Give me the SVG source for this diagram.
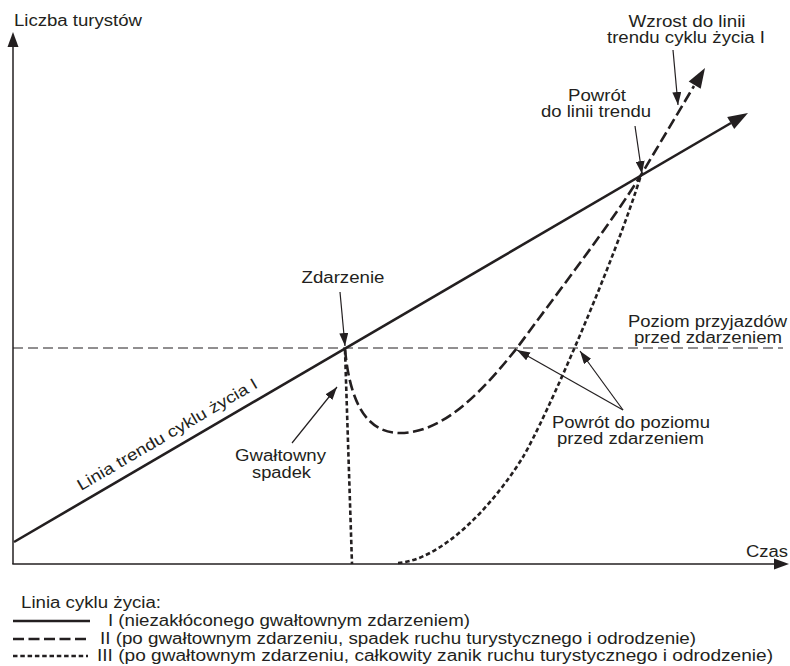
<svg xmlns="http://www.w3.org/2000/svg" width="790" height="666" viewBox="0 0 790 666">
  <style>
    text { font-family: "Liberation Sans", Arial, sans-serif; font-size: 16px; fill: #231f20; }
    .mid { text-anchor: middle; }
    .axis { stroke: #231f20; stroke-width: 1.5; fill: none; }
    .trend { stroke: #231f20; stroke-width: 2.6; fill: none; }
    .ref { stroke: #231f20; stroke-width: 1; fill: none; stroke-dasharray: 10 5; }
    .c2 { stroke: #231f20; stroke-width: 2.6; fill: none; stroke-dasharray: 11 4.5; }
    .c3 { stroke: #231f20; stroke-width: 2.6; fill: none; stroke-dasharray: 4.5 2.8; }
    .call { stroke: #231f20; stroke-width: 1.2; fill: none; marker-end: url(#tip); }
    .head { fill: #231f20; }
  </style>
  <defs>
    <marker id="tip" markerUnits="userSpaceOnUse" markerWidth="13" markerHeight="9" refX="13" refY="4.5" orient="auto">
      <path d="M0,0 L13,4.5 L0,9 z" fill="#231f20"/>
    </marker>
  </defs>
  <rect width="790" height="666" fill="#ffffff"/>

  <!-- axes -->
  <g id="axes">
    <line class="axis" x1="13" y1="564" x2="13" y2="44"/>
    <polygon class="head" points="13,32 18.5,47 7.5,47"/>
    <line class="axis" x1="12.3" y1="564" x2="776" y2="564"/>
    <polygon class="head" points="789,564 774,558.5 774,569.5"/>
    <text x="14" y="26" textLength="128" lengthAdjust="spacingAndGlyphs">Liczba turystów</text>
    <text x="746" y="557" textLength="42" lengthAdjust="spacingAndGlyphs">Czas</text>
  </g>

  <!-- pre-event arrivals level -->
  <g id="level">
    <line class="ref" x1="13" y1="348" x2="783" y2="348"/>
    <text x="628" y="327" textLength="159" lengthAdjust="spacingAndGlyphs">Poziom przyjazdów</text>
    <text x="634" y="343" textLength="148" lengthAdjust="spacingAndGlyphs">przed zdarzeniem</text>
  </g>

  <!-- life-cycle curves -->
  <g id="curve-1">
    <line class="trend" x1="14" y1="542" x2="731" y2="123"/>
    <polygon class="head" points="748,113 734.2,129.1 727.2,117.1"/>
    <text x="81" y="491" transform="rotate(-30.3 81 491)" textLength="206" lengthAdjust="spacingAndGlyphs">Linia trendu cyklu życia I</text>
  </g>
  <g id="curve-2">
    <path class="c2" d="M345,349 C350,405 368,433 400,433 C445,433 485,388 517,348 C555,296 610,225 641,175 L694,86"/>
    <polygon class="head" points="705,68 700.7,88.8 688.7,81.6"/>
  </g>
  <g id="curve-3">
    <path class="c3" d="M345,350 L352,564"/>
    <path class="c3" d="M398,563 C440,560 490,510 523,457 C545,420 615,260 641,175"/>
  </g>

  <!-- callout labels and pointers -->
  <g id="connectors">
    <line class="call" x1="340" y1="292" x2="345" y2="346"/>
    <line class="call" x1="292" y1="443" x2="337" y2="387"/>
    <line class="call" x1="635" y1="126" x2="642" y2="174"/>
    <line class="call" x1="673" y1="50" x2="678" y2="105"/>
    <line class="call" x1="623" y1="410" x2="517" y2="350"/>
    <line class="call" x1="623" y1="410" x2="580" y2="351"/>
  </g>
  <g id="label-event">
    <text class="mid" x="343" y="283" textLength="83" lengthAdjust="spacingAndGlyphs">Zdarzenie</text>
  </g>
  <g id="label-drop">
    <text x="235" y="461" textLength="91" lengthAdjust="spacingAndGlyphs">Gwałtowny</text>
    <text x="252" y="478" textLength="59" lengthAdjust="spacingAndGlyphs">spadek</text>
  </g>
  <g id="label-return-trend">
    <text class="mid" x="597" y="101" textLength="58" lengthAdjust="spacingAndGlyphs">Powrót</text>
    <text class="mid" x="596" y="117" textLength="110" lengthAdjust="spacingAndGlyphs">do linii trendu</text>
  </g>
  <g id="label-growth">
    <text class="mid" x="687" y="27" textLength="117" lengthAdjust="spacingAndGlyphs">Wzrost do linii</text>
    <text class="mid" x="686" y="43" textLength="158" lengthAdjust="spacingAndGlyphs">trendu cyklu życia I</text>
  </g>
  <g id="label-return-level">
    <text x="552" y="428" textLength="158" lengthAdjust="spacingAndGlyphs">Powrót do poziomu</text>
    <text x="557" y="444" textLength="147" lengthAdjust="spacingAndGlyphs">przed zdarzeniem</text>
  </g>

  <!-- legend -->
  <g id="legend">
    <text x="21" y="608" textLength="140" lengthAdjust="spacingAndGlyphs">Linia cyklu życia:</text>
    <line class="trend" x1="13" y1="621" x2="90" y2="621"/>
    <text x="108" y="626" textLength="362" lengthAdjust="spacingAndGlyphs">I (niezakłóconego gwałtownym zdarzeniem)</text>
    <line class="c2" x1="13" y1="639" x2="88" y2="639" stroke-dasharray="11 4"/>
    <text x="100" y="644" textLength="596" lengthAdjust="spacingAndGlyphs">II (po gwałtownym zdarzeniu, spadek ruchu turystycznego i odrodzenie)</text>
    <line class="c3" x1="13" y1="656" x2="88" y2="656"/>
    <text x="97" y="661" textLength="676" lengthAdjust="spacingAndGlyphs">III (po gwałtownym zdarzeniu, całkowity zanik ruchu turystycznego i odrodzenie)</text>
  </g>
</svg>
